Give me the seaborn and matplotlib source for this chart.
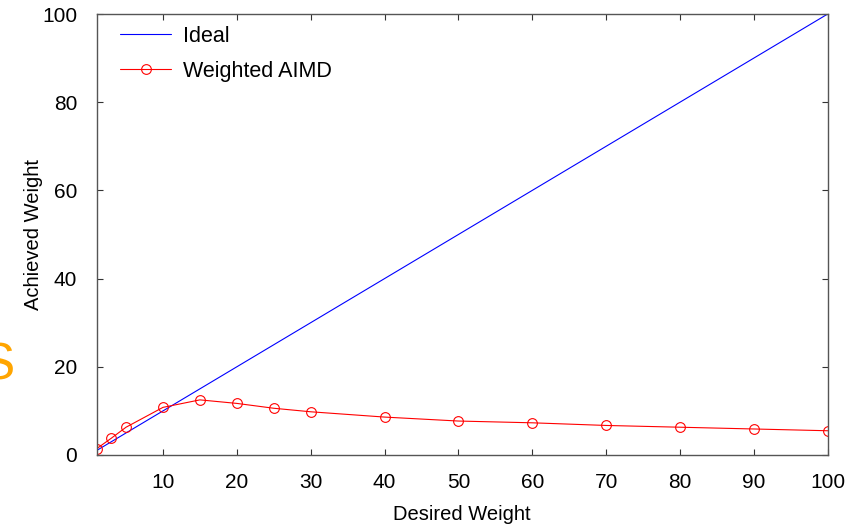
import matplotlib
matplotlib.use("Agg")
import matplotlib.pyplot as plt
import seaborn as sns
import pandas as pd

desired = [1, 3, 5, 10, 15, 20, 25, 30, 40, 50, 60, 70, 80, 90, 100]
achieved = [1.4, 3.8, 6.3, 10.8, 12.5, 11.7, 10.6, 9.8, 8.6, 7.7, 7.3, 6.7, 6.3, 5.9, 5.5]
ideal_x = [1, 100]
ideal_y = [1, 100]
xticks = [10, 20, 30, 40, 50, 60, 70, 80, 90, 100]
yticks = [0, 20, 40, 60, 80, 100]

sns.set_style("ticks")
plt.rcParams['font.family'] = ['Liberation Sans', 'DejaVu Sans']
plt.rcParams['text.color'] = 'black'
plt.rcParams['axes.labelcolor'] = 'black'
plt.rcParams['xtick.color'] = 'black'
plt.rcParams['ytick.color'] = 'black'

fig = plt.figure(figsize=(8.5, 5.27), dpi=100)
ax = fig.add_axes([96.5/850, 1 - 455/527, (827.7 - 96.5)/850, (455 - 14)/527])

df_ideal = pd.DataFrame({"x": ideal_x, "y": ideal_y})
df_aimd = pd.DataFrame({"x": desired, "y": achieved})

sns.lineplot(data=df_ideal, x="x", y="y", ax=ax, color="#0000ff", lw=0.8, label="Ideal")
sns.lineplot(data=df_aimd, x="x", y="y", ax=ax, color="#ff0000", lw=0.8, marker="o",
             markersize=7, markerfacecolor="none", markeredgecolor="#ff0000",
             markeredgewidth=0.8, label="Weighted AIMD")

ax.set_xlim(1, 100)
ax.set_ylim(0, 100)
ax.set_xticks(xticks)
ax.set_yticks(yticks)
ax.tick_params(direction="in", top=True, right=True, labelsize=15, length=4,
               color="#333333", width=0.8, labelcolor="black")
ax.tick_params(axis="x", pad=13)
ax.tick_params(axis="y", pad=14)
for s in ax.spines.values():
    s.set_color("#555555")
    s.set_linewidth(1.0)
    s.set_visible(True)

ax.set_xlabel("Desired Weight", fontsize=14.5, labelpad=9, color="black")
ax.set_ylabel("Achieved Weight", fontsize=14.5, labelpad=-1, color="black")

leg = ax.legend(loc="upper left", frameon=False, fontsize=15.5, handlelength=2.4,
                handletextpad=0.55, labelspacing=0.65, borderaxespad=0.0,
                bbox_to_anchor=(0.02, 0.993))
for t in leg.get_texts():
    t.set_color("black")

fig.text(-19/850, 1 - 366/527, "S", color="#ffa500", fontsize=37, va="center", ha="left")

fig.savefig("out.png", dpi=100)
